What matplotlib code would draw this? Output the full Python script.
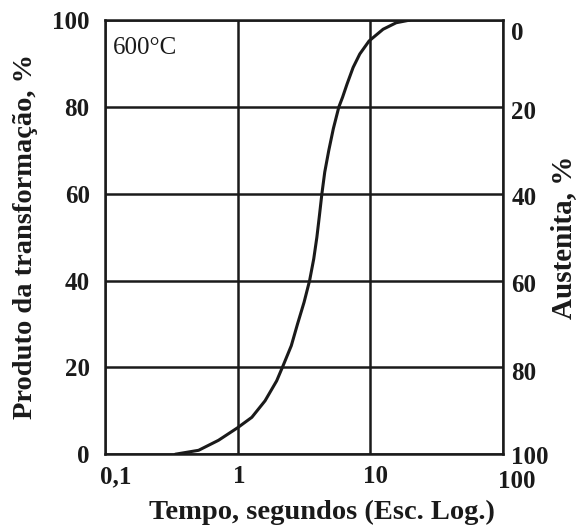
import numpy as np
import matplotlib
matplotlib.use('Agg')
from matplotlib import pyplot as plt
from matplotlib import transforms

# curve (time in s, transformed %)
tempo = [0.339, 0.508, 0.717, 1.0, 1.28, 1.61, 1.97, 2.21, 2.54, 2.83, 3.17, 3.49, 3.75,
         3.96, 4.14, 4.32, 4.54, 4.87, 5.27, 5.80, 6.18, 6.69, 7.43, 8.34, 9.8, 12.5,
         15.7, 19.8]
produto = [0, 0.9, 3.2, 6.1, 8.5, 12.3, 16.9, 20.5, 25, 30, 35, 40, 45,
           50, 55, 60, 65, 70, 75, 80, 82.2, 85.3, 89.1, 92.2, 95.2, 97.9,
           99.4, 100]

x_ticks = [0.1, 1, 10, 100]
x_labels = ['0,1', '1', '10', '100']
y_ticks = [0, 20, 40, 60, 80, 100]
aust_labels = ['100', '80', '60', '40', '20', '0']

plt.rcParams['font.family'] = ['Liberation Serif', 'DejaVu Serif']
ink = '#1a1a1a'

fig = plt.figure(figsize=(5.8, 5.3), dpi=100)
ax = fig.add_axes([0.181, 0.143, 0.686, 0.819])

ax.plot(tempo, produto, color=ink, lw=2.2, solid_capstyle='round', solid_joinstyle='round')
ax.set_xscale('log')
ax.set_xlim(0.1, 100)
ax.set_ylim(0, 100)
ax.set_xticks(x_ticks)
ax.set_xticklabels(x_labels, fontweight='bold')
ax.xaxis.set_minor_locator(matplotlib.ticker.NullLocator())
ax.set_yticks(y_ticks)
ax.set_yticklabels([str(v) for v in y_ticks], fontweight='bold')
ax.grid(True, color=ink, lw=1.8)
ax.tick_params(length=0, labelsize=18, colors=ink)
ax.tick_params(axis='y', pad=11)
ax.tick_params(axis='x', pad=8)
for s in ax.spines.values():
    s.set_linewidth(1.8)
    s.set_color(ink)

# nudge x labels like in the original
for lab, dx, dy in zip(ax.get_xticklabels(), [11, 1.5, 5, 14], [0, 0, 0, -5]):
    lab.set_transform(lab.get_transform() + transforms.ScaledTranslation(dx / 100, dy / 100, fig.dpi_scale_trans))

ax2 = ax.twinx()
ax2.set_ylim(0, 100)
ax2.set_yticks(y_ticks)
ax2.set_yticklabels(aust_labels, fontweight='bold')
ax2.tick_params(length=0, labelsize=18, colors=ink, pad=6)
for s in ax2.spines.values():
    s.set_visible(False)
for lab, dy in zip(ax2.get_yticklabels(), [-1, -4, -2, -2, -3, -11]):
    lab.set_transform(lab.get_transform() + transforms.ScaledTranslation(0, dy / 100, fig.dpi_scale_trans))

ax.text(0.115, 93.5, '600°C', fontsize=18, color=ink, va='center')

fig.text(0.044, 0.553, 'Produto da transformação, %', rotation=90, fontsize=20.5,
         fontweight='bold', color=ink, ha='center', va='center')
fig.text(0.972, 0.553, 'Austenita, %', rotation=90, fontsize=21,
         fontweight='bold', color=ink, ha='center', va='center')
fig.text(0.555, 0.033, 'Tempo, segundos (Esc. Log.)', fontsize=20.5,
         fontweight='bold', color=ink, ha='center', va='center')

fig.savefig('out.png', dpi=100, facecolor='white')
